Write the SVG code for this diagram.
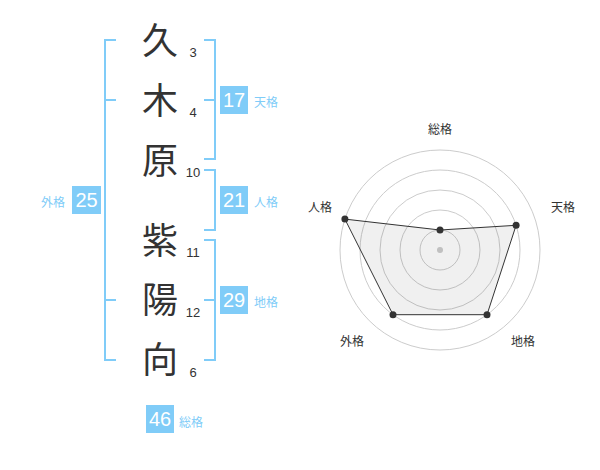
<svg xmlns="http://www.w3.org/2000/svg" width="600" height="470" viewBox="0 0 600 470">
<style>
.k{font-family:"Noto Sans CJK JP","Noto Sans CJK SC",sans-serif;font-size:36px;fill:#333;text-anchor:middle}
.n{font-family:"Liberation Sans",Arial,sans-serif;font-size:13px;fill:#333;text-anchor:middle}
.br{fill:none;stroke:#80ccf8;stroke-width:2}
.box{fill:#80ccf8}
.bv{font-family:"Liberation Sans",Arial,sans-serif;font-size:20px;fill:#fff;text-anchor:middle}
.bl{font-family:"Noto Sans CJK JP","Noto Sans CJK SC",sans-serif;font-size:12px;fill:#80ccf8}
.rl{font-family:"Noto Sans CJK JP","Noto Sans CJK SC",sans-serif;font-size:12px;fill:#333;text-anchor:middle}
.ring{fill:none;stroke:#ccc;stroke-width:1}
</style>
<rect width="600" height="470" fill="#fff"/>
<g id="chars">
<g id="c1"><text class="k" x="160" y="54">久</text><text class="n" x="193" y="57">3</text></g>
<g id="c2"><text class="k" x="160" y="114">木</text><text class="n" x="193" y="117">4</text></g>
<g id="c3"><text class="k" x="160" y="174">原</text><text class="n" x="193" y="177">10</text></g>
<g id="c4"><text class="k" x="160" y="254">紫</text><text class="n" x="193" y="257">11</text></g>
<g id="c5"><text class="k" x="160" y="313">陽</text><text class="n" x="193" y="317">12</text></g>
<g id="c6"><text class="k" x="160" y="373">向</text><text class="n" x="193" y="377">6</text></g>
</g>
<g id="connectors">
<path class="br" d="M116,40H105V360H116M105,100H116M105,300H116"/>
<path class="br" d="M204,40H215V159H204M204,100H215"/>
<path class="br" d="M204,170H215V230H204"/>
<path class="br" d="M204,240H215V360H204M204,300H215"/>
</g>
<g id="tenkaku"><rect class="box" x="220" y="86" width="28" height="28"/><text class="bv" x="234" y="107">17</text><text class="bl" x="254" y="107">天格</text></g>
<g id="jinkaku"><rect class="box" x="220" y="186" width="28" height="28"/><text class="bv" x="234" y="207">21</text><text class="bl" x="254" y="207">人格</text></g>
<g id="chikaku"><rect class="box" x="220" y="286" width="28" height="28"/><text class="bv" x="234" y="307">29</text><text class="bl" x="254" y="307">地格</text></g>
<g id="gaikaku"><rect class="box" x="72" y="186" width="29" height="28"/><text class="bv" x="86.5" y="207">25</text><text class="bl" x="41" y="207">外格</text></g>
<g id="soukaku"><rect class="box" x="146" y="405" width="28" height="28"/><text class="bv" x="160" y="426">46</text><text class="bl" x="179" y="427">総格</text></g>
<g id="radar">
<circle class="ring" cx="440" cy="250" r="100"/>
<circle class="ring" cx="440" cy="250" r="80"/>
<circle class="ring" cx="440" cy="250" r="60"/>
<circle class="ring" cx="440" cy="250" r="40"/>
<circle class="ring" cx="440" cy="250" r="20"/>
<circle cx="440" cy="250" r="3" fill="#ccc"/>
<polygon points="440,230 516.1,225.3 487,314.7 393,314.7 344.9,219.1" fill="#000" fill-opacity="0.06" stroke="#333" stroke-width="1"/>
<g fill="#333">
<circle cx="440" cy="230" r="3.5"/><circle cx="516.1" cy="225.3" r="3.5"/><circle cx="487" cy="314.7" r="3.5"/><circle cx="393" cy="314.7" r="3.5"/><circle cx="344.9" cy="219.1" r="3.5"/>
</g>
<text class="rl" x="440" y="134">総格</text>
<text class="rl" x="563" y="212">天格</text>
<text class="rl" x="320" y="212">人格</text>
<text class="rl" x="523" y="346">地格</text>
<text class="rl" x="352" y="346">外格</text>
</g>
</svg>
